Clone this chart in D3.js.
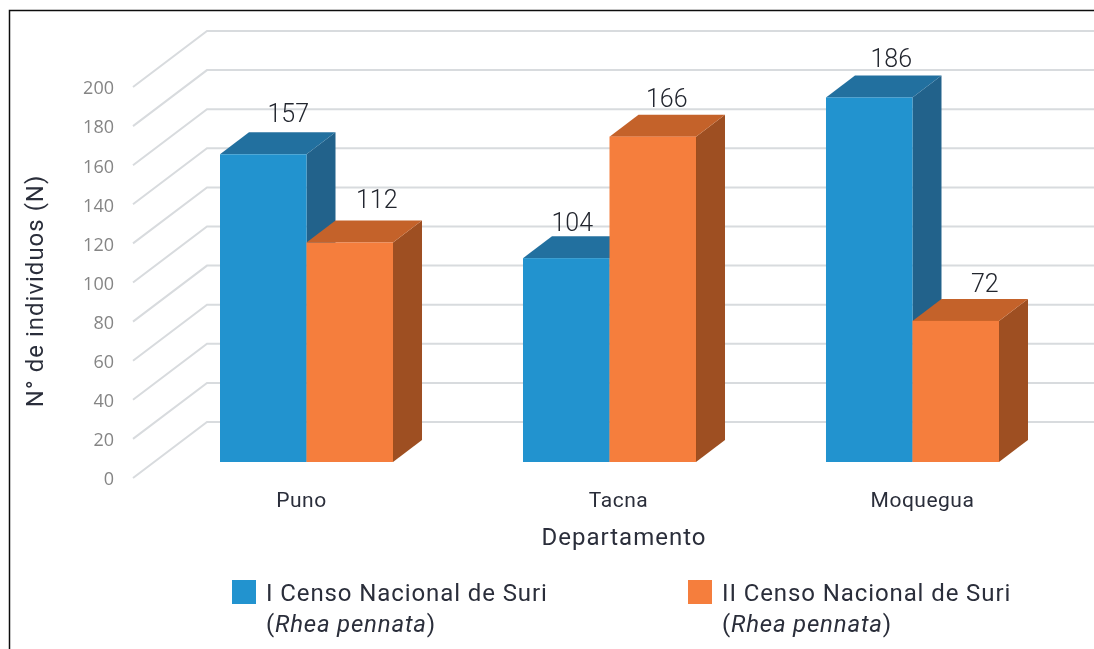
<!DOCTYPE html>
<html><head><meta charset="utf-8">
<script src="https://cdn.jsdelivr.net/npm/d3@7/dist/d3.min.js"></script>
<style>html,body{margin:0;padding:0;background:#fff;overflow:hidden}svg{display:block}text{font-family:Roboto,sans-serif}</style>
</head><body><svg id="c" width="1094" height="649"></svg>
<script>
const categories = ["Puno","Tacna","Moquegua"];
const censoI = [157,104,186];
const censoII = [112,166,72];
const yTicks = [0,20,40,60,80,100,120,140,160,180,200];
const yTitle = "N° de individuos (N)";
const xTitle = "Departamento";
const legendNames = ["I Censo Nacional de Suri","II Censo Nacional de Suri"];
const legendSpecies = "Rhea pennata";

const fills = [{front:"#2193cf",top:"#24709f",side:"#22628b"},{front:"#f57e3c",top:"#c4622b",side:"#9e4f20"}];
const labelNudge = [[[-4,0],[-2,-2]],[[-23,5],[-15,2]],[[-7,2],[0,3]]]; // by category, then series: hand-placed label shifts
const catNudge = [-5,9,10];

const svg = d3.select("#c");
const W=1094,H=649;
svg.append("defs").append("filter").attr("id","soft").attr("x",0).attr("y",0).attr("width","100%").attr("height","100%")
  .append("feGaussianBlur").attr("stdDeviation",0.45);
const root = svg.append("g").attr("filter","url(#soft)");
root.append("rect").attr("width",W).attr("height",H).attr("fill","#fff");
// floor plane: front edge at y=478, x=133; back edge at y=422, x=207
const wall = {dx:74,dy:-56};
const yFront = d3.scaleLinear().domain([0,200]).range([478,87]);
const barBase = 462, barDepth={dx:29,dy:-22};
const yH = d3.scaleLinear().domain([0,200]).range([0,392]);
const x0 = d3.scaleBand().domain(categories).range([220,999]).paddingInner(0.429).paddingOuter(0);
const x1 = d3.scaleBand().domain([0,1]).range([0,x0.bandwidth()]);

// frame
root.append("path").attr("d",d3.line()([[9.5,649],[9.5,10.5],[1094,10.5]])).attr("fill","none").attr("stroke","#111").attr("stroke-width",1.5);

// gridlines
const grid = root.append("g").attr("fill","none").attr("stroke","#d8dbde").attr("stroke-width",2);
yTicks.forEach(t=>{
  const y=yFront(t);
  grid.append("path").attr("d",d3.line()([[133,y],[133+wall.dx,y+wall.dy],[W,y+wall.dy]]));
});
// y labels
root.append("g").selectAll("text").data(yTicks).join("text")
  .attr("x",114).attr("y",d=>yFront(d)+1).attr("dy","0.35em").attr("text-anchor","end")
  .attr("font-size",18).attr("fill","#858585").style("font-family","'Open Sans'").text(d=>d);

// bars
const series=[censoI,censoII];
categories.forEach((c,i)=>{
  series.forEach((s,k)=>{
    const v=s[i], x=x0(c)+x1(k), w=x1.bandwidth(), top=barBase-yH(v);
    const g=root.append("g");
    const {dx,dy}=barDepth;
    g.append("path").attr("fill",fills[k].side).attr("d",d3.line()([[x+w,top],[x+w+dx,top+dy],[x+w+dx,barBase+dy],[x+w,barBase]])+"Z");
    g.append("path").attr("fill",fills[k].top).attr("d",d3.line()([[x,top],[x+dx,top+dy],[x+w+dx,top+dy],[x+w,top]])+"Z");
    g.append("rect").attr("x",x).attr("y",top).attr("width",w).attr("height",yH(v)).attr("fill",fills[k].front);
  });
});
// value labels
categories.forEach((c,i)=>{
  series.forEach((s,k)=>{
    const v=s[i], x=x0(c)+x1(k)+x1.bandwidth()/2+barDepth.dx, top=barBase-yH(v)+barDepth.dy;
    const n=labelNudge[i][k];
    root.append("text").attr("x",x+n[0]).attr("y",top-10+n[1]).attr("text-anchor","middle")
      .attr("font-size",25).attr("font-weight",300).attr("fill","#22252e").text(v);
  });
});
// categories
root.append("g").selectAll("text").data(categories).join("text")
  .attr("x",(d,i)=>x0(d)+x0.bandwidth()/2+catNudge[i]).attr("y",507).attr("text-anchor","middle")
  .attr("font-size",21).attr("fill","#2b2e3a").attr("letter-spacing",0.5).text(d=>d);
// axis titles
root.append("text").attr("x",624).attr("y",545).attr("text-anchor","middle").attr("font-size",24).attr("letter-spacing",1).attr("fill","#2b2e3a").text(xTitle);
root.append("text").attr("transform","translate(43,291) rotate(-90)").attr("text-anchor","middle").attr("font-size",24).attr("letter-spacing",1).attr("fill","#2b2e3a").text(yTitle);
// legend
const lx=[232,688];
legendNames.forEach((n,k)=>{
  const g=root.append("g").attr("transform",`translate(${lx[k]},0)`);
  g.append("rect").attr("x",0).attr("y",580).attr("width",24).attr("height",24).attr("fill",fills[k].front);
  g.append("text").attr("x",34).attr("y",601).attr("font-size",24).attr("letter-spacing",0.9).attr("fill","#2b2e3a").text(n);
  const t=g.append("text").attr("x",34).attr("y",632).attr("font-size",24).attr("letter-spacing",0.8).attr("fill","#2b2e3a");
  t.append("tspan").text("(");
  t.append("tspan").attr("font-style","italic").text(legendSpecies);
  t.append("tspan").text(")");
});
</script></body></html>
